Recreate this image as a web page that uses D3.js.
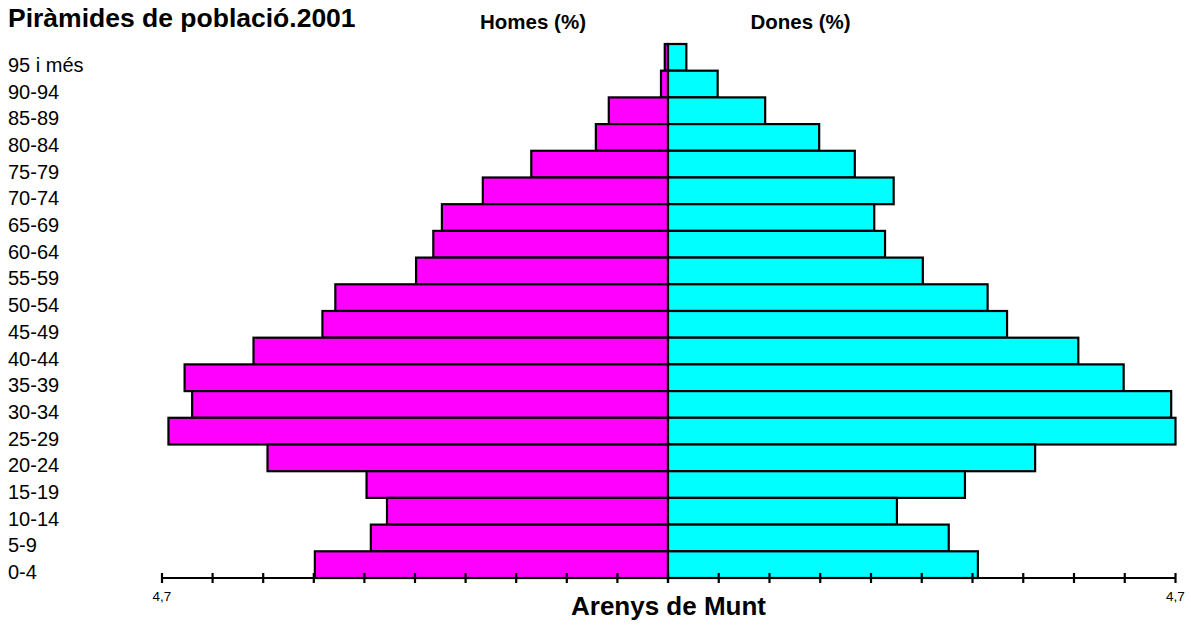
<!DOCTYPE html>
<html>
<head>
<meta charset="utf-8">
<script src="https://cdn.jsdelivr.net/npm/d3@7"></script>
<style>
  body { margin: 0; background: #fff; }
  svg { display: block; font-family: "Liberation Sans", Arial, sans-serif; }
</style>
</head>
<body>
<div id="chart"></div>
<script>
// age groups, top to bottom
const ageGroups = ["95 i més", "90-94", "85-89", "80-84", "75-79", "70-74", "65-69",
  "60-64", "55-59", "50-54", "45-49", "40-44", "35-39", "30-34", "25-29",
  "20-24", "15-19", "10-14", "5-9", "0-4"];

// percentages
const homes = [0.03, 0.065, 0.55, 0.67, 1.27, 1.72, 2.10, 2.18, 2.34, 3.09,
  3.21, 3.85, 4.49, 4.42, 4.64, 3.72, 2.80, 2.61, 2.76, 3.28];
const dones = [0.17, 0.46, 0.90, 1.40, 1.73, 2.09, 1.91, 2.01, 2.36, 2.96,
  3.14, 3.80, 4.22, 4.66, 4.70, 3.40, 2.75, 2.12, 2.60, 2.87];

const axisMax = 4.7;
const tickLabels = ["4,7", "4,7"];

const W = 1191, H = 626;
const svg = d3.select("#chart").append("svg").attr("width", W).attr("height", H);

const plotLeft = 162, plotCenter = 668, plotRight = 1175.5;
const plotTop = 44, plotBottom = 578;

const xL = d3.scaleLinear().domain([0, axisMax]).range([plotCenter, plotLeft]);
const xR = d3.scaleLinear().domain([0, axisMax]).range([plotCenter, plotRight]);
const y = d3.scaleBand().domain(ageGroups).range([plotTop, plotBottom]).padding(0);

const rows = ageGroups.map((g, i) => ({ g, h: homes[i], d: dones[i] }));

// men bars
svg.append("g").selectAll("rect")
  .data(rows).join("rect")
  .attr("x", d => xL(d.h))
  .attr("y", d => y(d.g))
  .attr("width", d => xL(0) - xL(d.h))
  .attr("height", y.bandwidth())
  .attr("fill", "#ff00ff")
  .attr("stroke", "#000")
  .attr("stroke-width", 2.2);

// women bars
svg.append("g").selectAll("rect")
  .data(rows).join("rect")
  .attr("x", xR(0))
  .attr("y", d => y(d.g))
  .attr("width", d => xR(d.d) - xR(0))
  .attr("height", y.bandwidth())
  .attr("fill", "#00ffff")
  .attr("stroke", "#000")
  .attr("stroke-width", 2.2);

// age labels
svg.append("g").selectAll("text")
  .data(ageGroups).join("text")
  .attr("x", 8)
  .attr("y", d => y(d) + y.bandwidth() / 2 + 14.5)
  .attr("font-size", 20)
  .attr("fill", "#000")
  .text(d => d);

// x axis with ticks on both halves
const axis = svg.append("g");
axis.append("line")
  .attr("x1", plotLeft).attr("x2", plotRight)
  .attr("y1", plotBottom).attr("y2", plotBottom)
  .attr("stroke", "#000").attr("stroke-width", 2.2);

const tickVals = d3.range(0, 11).map(i => i * axisMax / 10);
[xL, xR].forEach(sc => {
  axis.append("g").selectAll("line")
    .data(tickVals).join("line")
    .attr("x1", d => sc(d)).attr("x2", d => sc(d))
    .attr("y1", plotBottom - 5).attr("y2", plotBottom + 5)
    .attr("stroke", "#000").attr("stroke-width", 2.2);
});

axis.append("text").attr("x", xL(axisMax)).attr("y", 601)
  .attr("text-anchor", "middle").attr("font-size", 13.5).text(tickLabels[0]);
axis.append("text").attr("x", xR(axisMax)).attr("y", 601)
  .attr("text-anchor", "middle").attr("font-size", 13.5).text(tickLabels[1]);

// titles
svg.append("text").attr("x", 8).attr("y", 27)
  .attr("font-size", 26.5).attr("font-weight", "bold").text("Piràmides de població.2001");
svg.append("text").attr("x", 533).attr("y", 29)
  .attr("text-anchor", "middle")
  .attr("font-size", 20.5).attr("font-weight", "bold").text("Homes (%)");
svg.append("text").attr("x", 800.5).attr("y", 29)
  .attr("text-anchor", "middle")
  .attr("font-size", 20.5).attr("font-weight", "bold").text("Dones (%)");
svg.append("text").attr("x", 668.5).attr("y", 615)
  .attr("text-anchor", "middle")
  .attr("font-size", 26).attr("font-weight", "bold").text("Arenys de Munt");
</script>
</body>
</html>
